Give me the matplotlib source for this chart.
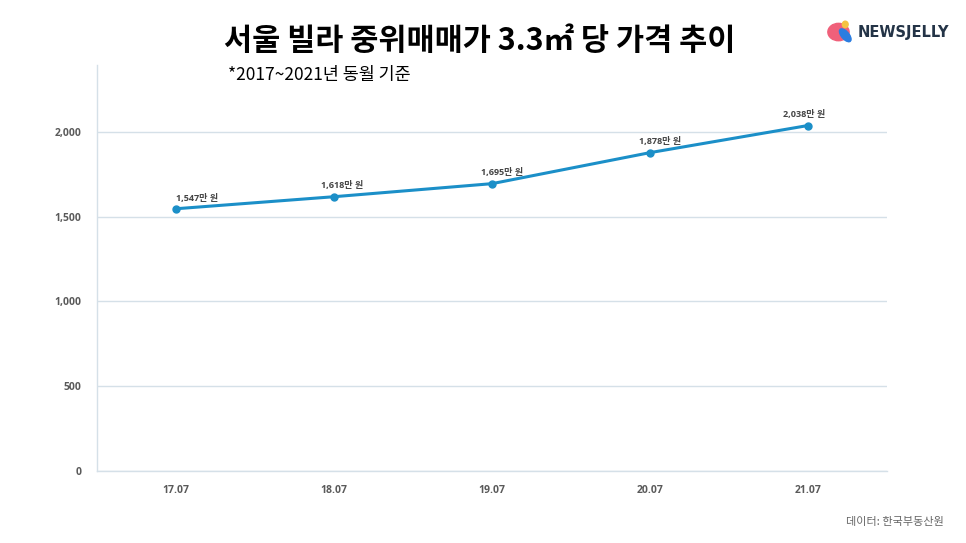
import matplotlib
matplotlib.use("Agg")
import matplotlib.pyplot as plt
from matplotlib.patches import Ellipse

plt.rcParams['font.family'] = ['Noto Sans CJK KR', 'DejaVu Sans']

periods = ["17.07", "18.07", "19.07", "20.07", "21.07"]
prices = [1547, 1618, 1695, 1878, 2038]
yticks = [0, 500, 1000, 1500, 2000]

line_color = "#1b8fc8"
grid_color = "#d5e0e8"
tick_color = "#5a5a5a"
num_font = ["Open Sans", "Noto Sans CJK KR"]
label_dx = [15, 6, 7, 7, -3]  # label shift in points, as in the original

fig = plt.figure(figsize=(9.66, 5.43), dpi=100)
ax = fig.add_axes([0.1004, 0.1326, 0.8178, 0.7477])

x = range(len(periods))
ax.plot(x, prices, color=line_color, lw=2.2, marker="o", ms=5, zorder=3)
for i, v in enumerate(prices):
    ax.annotate(f"{v:,}만 원", (i, v), xytext=(label_dx[i], 4.5), textcoords="offset points",
                ha="center", va="bottom", fontsize=6.5, fontweight="bold",
                color="#444444", family=num_font)

ax.set_xlim(-0.5, len(periods) - 0.5)
ax.set_ylim(0, 2395)
ax.set_xticks(list(x))
ax.set_xticklabels(periods)
ax.set_yticks(yticks)
ax.set_yticklabels([f"{t:,}" for t in yticks])
ax.tick_params(length=0, labelsize=7.5, labelcolor=tick_color, pad=10)
for lab in ax.get_xticklabels() + ax.get_yticklabels():
    lab.set_family(num_font)
    lab.set_fontweight("bold")
ax.tick_params(axis="y", pad=11)
ax.grid(axis="y", color=grid_color, lw=1)
ax.set_axisbelow(True)
for s in ["top", "right"]:
    ax.spines[s].set_visible(False)
for s in ["left", "bottom"]:
    ax.spines[s].set_color(grid_color)
    ax.spines[s].set_linewidth(1)

fig.text(0.497, 0.925, "서울 빌라 중위매매가 3.3㎡ 당 가격 추이", ha="center", va="center",
         fontsize=22, fontweight="bold", color="black")
fig.text(0.236, 0.862, "*2017~2021년 동월 기준", ha="left", va="center",
         fontsize=12.5, color="black")
fig.text(0.977, 0.038, "데이터: 한국부동산원", ha="right", va="center",
         fontsize=8, color="#666666")

# logo
fig.text(0.888, 0.941, "NEWSJELLY", ha="left", va="center", fontsize=10.5,
         fontweight="bold", color="#243447", family=["DejaVu Sans"])
fig.patches.append(Ellipse((0.868, 0.941), 0.022, 0.032, transform=fig.transFigure,
                           color="#f0607a", zorder=5))
fig.patches.append(Ellipse((0.875, 0.935), 0.009, 0.025, angle=20, transform=fig.transFigure,
                           color="#2b7de0", zorder=6))
fig.patches.append(Ellipse((0.875, 0.955), 0.006, 0.012, transform=fig.transFigure,
                           color="#f5c342", zorder=6))

fig.savefig("out.png", dpi=100)
